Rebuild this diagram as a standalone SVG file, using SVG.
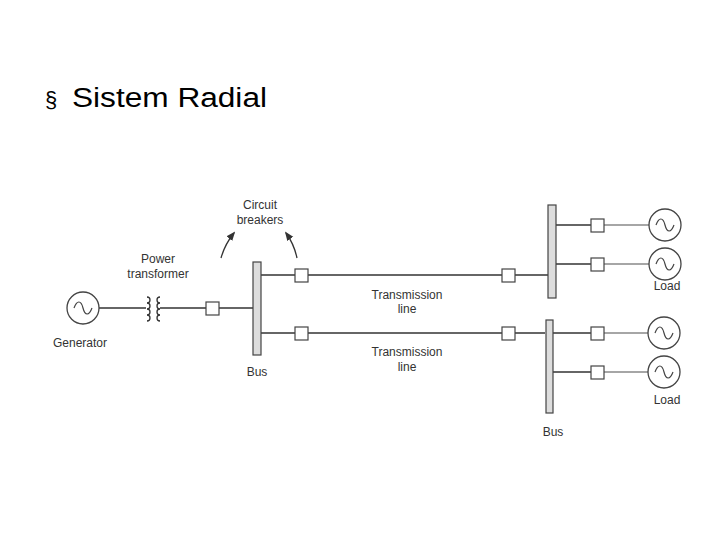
<svg xmlns="http://www.w3.org/2000/svg" width="720" height="540" viewBox="0 0 720 540">
<style>
.t{font-family:"Liberation Sans",Arial,sans-serif;font-size:12px;fill:#333;text-anchor:middle}
.w{stroke:#333;stroke-width:1.3;fill:none}
.lw{stroke:#888;stroke-width:1.3;fill:none}
.cb{fill:#fff;stroke:#444;stroke-width:1.2}
.bus{fill:#ddd;stroke:#444;stroke-width:1.2}
.src{fill:#fff;stroke:#444;stroke-width:1.3}
</style>
<defs>
<marker id="ah" viewBox="0 0 10 10" refX="8" refY="5" markerWidth="7" markerHeight="7" orient="auto"><path d="M0,1 L10,5 L0,9 z" fill="#333"/></marker>
<symbol id="sine" overflow="visible"><path d="M-9,0 C-6,-8 -2,-8 0,0 C2,8 6,8 9,0" fill="none" stroke="#444" stroke-width="1.2"/></symbol>
</defs>
<rect width="720" height="540" fill="#fff"/>
<g id="title" font-family="'Liberation Sans',Arial,sans-serif" font-size="27" fill="#000">
<text x="45" y="107" font-size="22">§</text>
<text x="72" y="107" textLength="195" lengthAdjust="spacingAndGlyphs">Sistem Radial</text>
</g>
<g id="connectors">
<line class="w" x1="99" y1="308" x2="146" y2="308"/>
<line class="w" x1="160" y1="308" x2="253" y2="308"/>
<line class="w" x1="261" y1="275" x2="548" y2="275"/>
<line class="w" x1="261" y1="333" x2="545" y2="333"/>
<line class="w" x1="556" y1="225" x2="597" y2="225"/>
<line class="lw" x1="604" y1="225" x2="649" y2="225"/>
<line class="w" x1="556" y1="264" x2="597" y2="264"/>
<line class="lw" x1="604" y1="264" x2="649" y2="264"/>
<line class="w" x1="553" y1="333" x2="597" y2="333"/>
<line class="lw" x1="604" y1="333" x2="648" y2="333"/>
<line class="w" x1="553" y1="372" x2="597" y2="372"/>
<line class="lw" x1="604" y1="372" x2="648" y2="372"/>
<path class="w" d="M221,258 Q225,244 234,233" marker-end="url(#ah)"/>
<path class="w" d="M297,258 Q294,244 286,233" marker-end="url(#ah)"/>
</g>
<g id="generator"><circle class="src" cx="83" cy="308" r="16"/><use href="#sine" x="83" y="308"/><text class="t" x="80" y="347">Generator</text></g>
<g id="transformer">
<path class="w" d="M147,297 a3,3 0 0 1 0,6 a3,3 0 0 1 0,6 a3,3 0 0 1 0,6 a3,3 0 0 1 0,6"/>
<path class="w" d="M160,297 a3,3 0 0 0 0,6 a3,3 0 0 0 0,6 a3,3 0 0 0 0,6 a3,3 0 0 0 0,6"/>
<text class="t" x="158" y="263">Power</text><text class="t" x="158" y="278">transformer</text>
</g>
<g id="cb-gen"><rect class="cb" x="206" y="302" width="13" height="13"/></g>
<g id="bus1"><rect class="bus" x="253" y="262" width="8" height="93"/><text class="t" x="257" y="376">Bus</text></g>
<g id="cb-labels"><text class="t" x="260" y="209">Circuit</text><text class="t" x="260" y="224">breakers</text></g>
<g id="cb1"><rect class="cb" x="295" y="269" width="13" height="13"/></g>
<g id="cb2"><rect class="cb" x="295" y="327" width="13" height="13"/></g>
<g id="cb3"><rect class="cb" x="502" y="269" width="13" height="13"/></g>
<g id="cb4"><rect class="cb" x="502" y="327" width="13" height="13"/></g>
<g id="tl1"><text class="t" x="407" y="299">Transmission</text><text class="t" x="407" y="313">line</text></g>
<g id="tl2"><text class="t" x="407" y="356">Transmission</text><text class="t" x="407" y="371">line</text></g>
<g id="bus2"><rect class="bus" x="548" y="205" width="8" height="93"/></g>
<g id="bus3"><rect class="bus" x="546" y="320" width="7" height="93"/><text class="t" x="553" y="436">Bus</text></g>
<g id="cb5"><rect class="cb" x="591" y="219" width="13" height="13"/></g>
<g id="cb6"><rect class="cb" x="591" y="258" width="13" height="13"/></g>
<g id="cb7"><rect class="cb" x="591" y="327" width="13" height="13"/></g>
<g id="cb8"><rect class="cb" x="591" y="366" width="13" height="13"/></g>
<g id="load1"><circle class="src" cx="665" cy="225" r="16"/><use href="#sine" x="665" y="225"/></g>
<g id="load2"><circle class="src" cx="665" cy="264" r="16"/><use href="#sine" x="665" y="264"/><text class="t" x="667" y="290">Load</text></g>
<g id="load3"><circle class="src" cx="664" cy="333" r="16"/><use href="#sine" x="664" y="333"/></g>
<g id="load4"><circle class="src" cx="664" cy="372" r="16"/><use href="#sine" x="664" y="372"/><text class="t" x="667" y="404">Load</text></g>
</svg>
